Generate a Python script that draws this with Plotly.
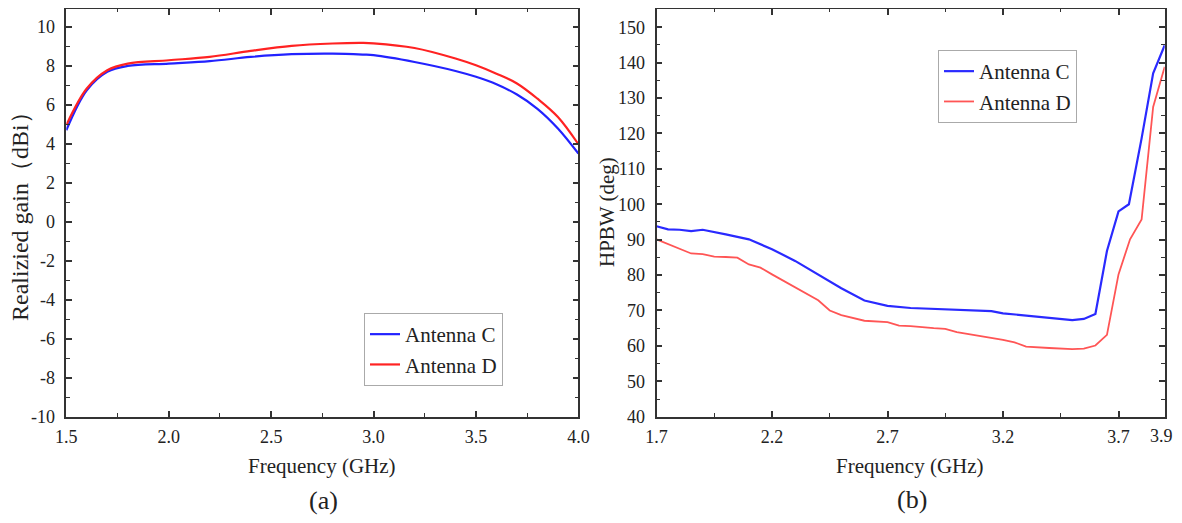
import plotly.graph_objects as go

# ---------------- data ----------------
# (a) realized gain
freq_a = [1.5, 1.6, 1.7, 1.8, 2.0, 2.2, 2.4, 2.6, 2.8, 2.95, 3.0, 3.2, 3.4, 3.5, 3.6, 3.7, 3.8, 3.9, 4.0]
gain_c = [4.7, 6.75, 7.7, 8.0, 8.12, 8.24, 8.46, 8.6, 8.63, 8.58, 8.55, 8.2, 7.74, 7.44, 7.06, 6.53, 5.8, 4.79, 3.5]
gain_d = [4.96, 6.84, 7.78, 8.12, 8.29, 8.46, 8.77, 9.03, 9.15, 9.18, 9.16, 8.92, 8.38, 8.03, 7.6, 7.1, 6.32, 5.38, 3.98]

# (b) HPBW
freq_b_c = [1.7, 1.75, 1.8, 1.85, 1.9, 1.95, 2.0, 2.1, 2.2, 2.3, 2.4, 2.5, 2.6, 2.7, 2.8, 2.9,
            3.0, 3.1, 3.15, 3.2, 3.3, 3.4, 3.5, 3.55, 3.6, 3.65, 3.7, 3.745, 3.8, 3.85, 3.9]
hpbw_c = [93.8, 92.9, 92.8, 92.4, 92.8, 92.2, 91.5, 90.1, 87.3, 84.0, 80.2, 76.3, 72.8, 71.3, 70.7, 70.4,
          70.1, 70.0, 69.8, 69.2, 68.5, 67.8, 67.3, 67.6, 69.0, 86.8, 98.0, 100.0, 118.6, 137.0, 144.9]
freq_b_d = [1.7, 1.75, 1.8, 1.85, 1.9, 1.95, 2.0, 2.05, 2.1, 2.15, 2.2, 2.3, 2.4, 2.45, 2.5, 2.6, 2.7,
            2.75, 2.8, 2.9, 2.95, 3.0, 3.1, 3.2, 3.25, 3.3, 3.4, 3.5, 3.55, 3.6, 3.65, 3.7, 3.75, 3.8,
            3.85, 3.9]
hpbw_d = [90.1, 88.7, 87.3, 86.1, 85.9, 85.2, 85.1, 84.9, 83.0, 82.1, 80.2, 76.5, 72.9, 70.0, 68.7, 67.1, 66.7,
          65.7, 65.6, 65.0, 64.8, 63.9, 62.9, 61.7, 61.0, 59.8, 59.4, 59.1, 59.2, 60.1, 63.1, 80.2, 90.1, 95.7,
          127.5, 138.8]

series_names = ["Antenna C", "Antenna D"]

xt_a = [1.5, 2.0, 2.5, 3.0, 3.5, 4.0]
xt_a_text = ["1.5", "2.0", "2.5", "3.0", "3.5", "4.0"]
yt_a = [-10, -8, -6, -4, -2, 0, 2, 4, 6, 8, 10]
yt_a_text = ["-10", "-8", "-6", "-4", "-2", "0", "2", "4", "6", "8", "10"]
xt_b = [1.7, 2.2, 2.7, 3.2, 3.7, 3.9]
xt_b_text = ["1.7", "2.2", "2.7", "3.2", "3.7", "3.9"]
xt_b_minor = [1.95, 2.45, 2.95, 3.45]
yt_b = [40, 50, 60, 70, 80, 90, 100, 110, 120, 130, 140, 150]

# ---------------- geometry helpers (page offset of 8 px from body margin) ----------------
W, H, OFF = 1166, 507, 8
def fx(px):
    return (px - OFF) / W
def fy(py):
    return 1 - (py - OFF) / H

FONT = "Liberation Serif, Times New Roman, serif"
fig = go.Figure()

fig.add_trace(go.Scatter(x=freq_a, y=gain_c, name=series_names[0], mode="lines",
                         line=dict(color="#2222ff", width=2.2, shape="spline", smoothing=1.0),
                         xaxis="x", yaxis="y", legend="legend"))
fig.add_trace(go.Scatter(x=freq_a, y=gain_d, name=series_names[1], mode="lines",
                         line=dict(color="#ff2222", width=2.2, shape="spline", smoothing=1.0),
                         xaxis="x", yaxis="y", legend="legend"))
fig.add_trace(go.Scatter(x=freq_b_c, y=hpbw_c, name=series_names[0], mode="lines",
                         line=dict(color="#2a2aff", width=2.2),
                         xaxis="x2", yaxis="y2", legend="legend2"))
fig.add_trace(go.Scatter(x=freq_b_d, y=hpbw_d, name=series_names[1], mode="lines",
                         line=dict(color="#ff5555", width=1.8),
                         xaxis="x2", yaxis="y2", legend="legend2"))

axis_common = dict(showline=True, linecolor="#333", linewidth=1.6, mirror="allticks",
                   ticks="inside", ticklen=6, tickwidth=1.5, tickcolor="#333",
                   showgrid=False, zeroline=False, automargin=False, ticklabeloverflow="allow",
                   tickfont=dict(family=FONT, size=18, color="#222"))
minor_common = dict(ticks="inside", ticklen=3.5, tickwidth=1.3, tickcolor="#333", showgrid=False)

# last label of panel (b) sits at the page edge: draw it as right-anchored text instead
xt_b_text_axis = xt_b_text[:-1] + [""]

ydom = [fy(416.7), fy(8.8)]
fig.update_layout(
    width=W, height=H,
    margin=dict(l=0, r=0, t=0, b=0, pad=0, autoexpand=False),
    paper_bgcolor="white", plot_bgcolor="white",
    font=dict(family=FONT, color="#222"),
    xaxis=dict(domain=[fx(66.3), fx(578.4)], range=[1.5, 4.0], tickvals=xt_a, ticktext=xt_a_text,
               minor=dict(dtick=0.25, tick0=1.5, **minor_common), anchor="y",
               ticklabelstandoff=3, **axis_common),
    yaxis=dict(domain=ydom, range=[-10, 10.93], tickvals=yt_a, ticktext=yt_a_text,
               minor=dict(dtick=1, tick0=-10, **minor_common), anchor="x",
               ticklabelstandoff=6, **axis_common),
    xaxis2=dict(domain=[fx(656.5), fx(1164.7)], range=[1.7, 3.9], tickvals=xt_b, ticktext=xt_b_text_axis,
                minor=dict(tickvals=xt_b_minor, **minor_common), anchor="y2",
                ticklabelstandoff=3, **axis_common),
    yaxis2=dict(domain=ydom, range=[40, 155.2], tickvals=yt_b,
                minor=dict(dtick=5, tick0=40, **minor_common), anchor="x2",
                ticklabelstandoff=6, **axis_common),
    legend=dict(x=fx(364), y=fy(313), xanchor="left", yanchor="top",
                bgcolor="white", bordercolor="#aaa", borderwidth=1,
                font=dict(family=FONT, size=21, color="#222"), tracegroupgap=0),
    legend2=dict(x=fx(938), y=fy(50), xanchor="left", yanchor="top",
                 bgcolor="white", bordercolor="#aaa", borderwidth=1,
                 font=dict(family=FONT, size=21, color="#222"), tracegroupgap=0),
    showlegend=True,
)

def ann(text, x, y, size, angle=0, xanchor="center"):
    fig.add_annotation(text=text, x=fx(x), y=fy(y), xref="paper", yref="paper",
                       showarrow=False, xanchor=xanchor, yanchor="middle", textangle=angle,
                       font=dict(family=FONT, size=size, color="#222"))

ann("Frequency (GHz)", 322, 466, 21)
ann("Frequency (GHz)", 910, 466, 21)
ann("Realizied gain（dBi）", 20, 211, 24, -90)
ann("HPBW (deg)", 607, 212, 21, -90)
ann("(a)", 323, 500, 26)
ann("(b)", 912, 499, 26)
ann(xt_b_text[-1], 1175, 436, 18, xanchor="right")

fig.write_html("out.html")
